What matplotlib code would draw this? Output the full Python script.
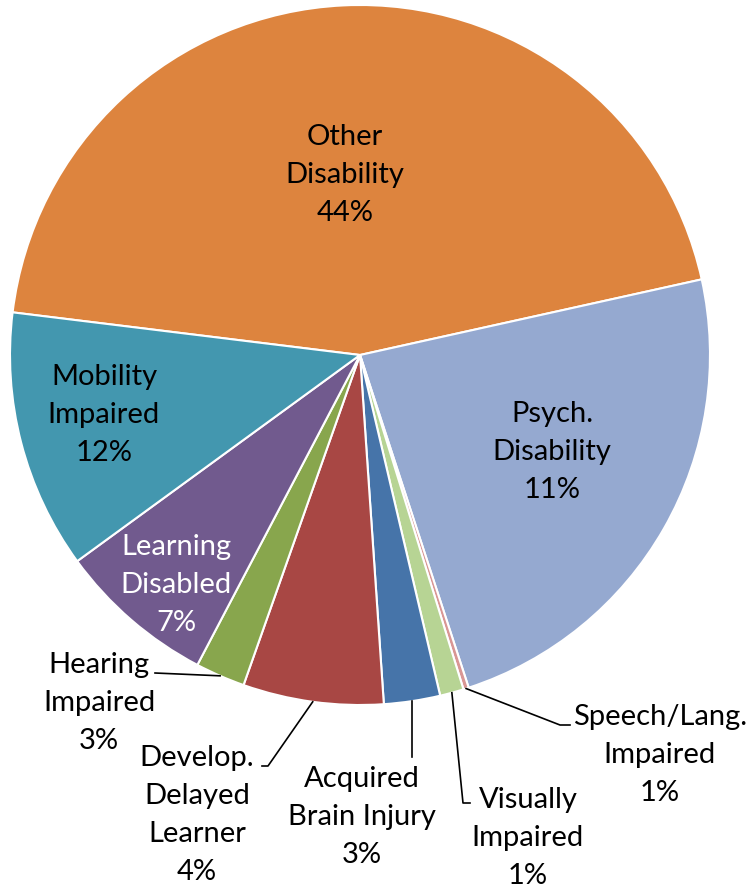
import matplotlib.pyplot as plt
import numpy as np

# slice sizes (%) and the labels printed on the chart
categories = ["Other\nDisability", "Psych.\nDisability", "Speech/Lang.\nImpaired",
              "Visually\nImpaired", "Acquired\nBrain Injury", "Develop.\nDelayed\nLearner",
              "Hearing\nImpaired", "Learning\nDisabled", "Mobility\nImpaired"]
sizes = [44.7, 23.5, 0.25, 1.1, 2.6, 6.5, 2.3, 7.3, 12.0]
pct_labels = ["44%", "11%", "1%", "1%", "3%", "4%", "3%", "7%", "12%"]
colors = ["#DD843E", "#95A9D0", "#D99694", "#B7D494", "#4674A9",
          "#A84744", "#88A64D", "#715A8E", "#4397AF"]

plt.rcParams['font.family'] = ['Lato', 'DejaVu Sans']

fig = plt.figure(figsize=(7.55, 8.9), dpi=100)
ax = fig.add_axes([0, 0, 1, 1])
wedges, _ = ax.pie(sizes, colors=colors, startangle=173, counterclock=False,
                   radius=1.0, wedgeprops=dict(edgecolor='white', linewidth=1.5))
ax.set_xlim(-360/350, (755-360)/350)
ax.set_ylim((355-890)/350, 355/350)
ax.axis('off')

def px(x, y):
    return (x-360)/350, (355-y)/350

fs = 21
ls = 1.58
# inside labels: (index, pixel center, text color)
inside = [(0, (345, 175), 'black'), (1, (552, 452), 'black'),
          (8, (104, 415), 'black'), (7, (176, 585), 'white')]
for i, (x, y), c in inside:
    ax.text(*px(x, y), categories[i] + "\n" + pct_labels[i], ha='center', va='center',
            fontsize=fs, color=c, linespacing=ls)

# outside labels: (index, text center, leader path after wedge edge)
outside = [(6, (99, 703), [(155, 673)]),
           (5, (197, 815), [(268, 766), (262, 766)]),
           (4, (362, 817), [None, (415, 757)]),
           (3, (528, 838), [(463, 803), (470, 803)]),
           (2, (660, 755), [(560, 725), (570, 725)])]
for i, (x, y), path in outside:
    ax.text(*px(x, y), categories[i] + "\n" + pct_labels[i], ha='center', va='center',
            fontsize=fs, color='black', linespacing=ls)
    w = wedges[i]
    mid = np.deg2rad((w.theta1 + w.theta2) / 2)
    xs = [np.cos(mid)]
    ys = [np.sin(mid)]
    for p in path:
        if p is None:
            continue
        if i == 4:
            xs.append(xs[0]); ys.append(px(*p)[1])
        else:
            xs.append(px(*p)[0]); ys.append(px(*p)[1])
    ax.plot(xs, ys, color='black', linewidth=1.2)

plt.savefig('out.png', dpi=100)
